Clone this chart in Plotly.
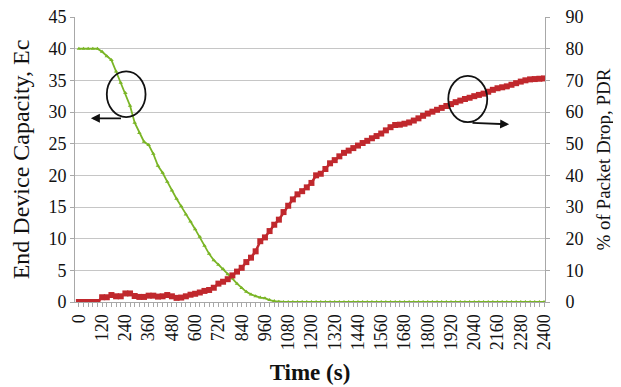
import plotly.graph_objects as go

time_s = list(range(0, 2401, 24))

end_device_capacity = [
    40, 40, 40, 40, 40, 39.5, 38.8, 38.2, 36.4, 34.6,
    33.0, 31.0, 28.3, 26.7, 25.3, 24.8, 23.4, 21.5, 20.4, 19.0,
    17.6, 16.3, 15.1, 13.8, 12.7, 11.5, 10.3, 8.9, 7.6, 6.6,
    5.9, 5.2, 4.4, 3.7, 2.9, 2.2, 1.6, 1.2, 0.9, 0.7,
    0.6, 0.3, 0.15, 0.05,
] + [0] * 57

packet_drop_pct = [
    0, 0, 0, 0, 0, 1.5, 1.5, 2.2, 1.8, 1.8,
    2.7, 2.7, 1.9, 1.6, 1.6, 2.0, 2.0, 1.7, 1.8, 2.2,
    1.8, 1.3, 1.4, 1.8, 2.3, 2.6, 3.0, 3.5, 3.8, 4.5,
    5.8, 6.4, 7.2, 8.4, 9.6, 10.8, 12.6, 14.0, 16.0, 19.2,
    20.4, 22.4, 24.4, 26.0, 28.4, 30.4, 32.4, 34.0, 35.0, 36.2,
    37.6, 40.0, 40.5, 42.0, 43.8, 44.8, 46.0, 47.1, 47.8, 48.6,
    49.4, 50.2, 50.9, 51.7, 52.4, 53.2, 54.2, 55.2, 55.9, 56.0,
    56.3, 56.7, 57.3, 58.0, 58.8, 59.5, 60.1, 60.7, 61.3, 61.9,
    62.5, 63.1, 63.6, 64.1, 64.5, 65.0, 65.4, 65.8, 66.4, 67.0,
    67.5, 67.8, 68.1, 68.6, 69.1, 69.6, 70.0, 70.3, 70.4, 70.5,
    70.6,
]

x_tick_vals = list(range(0, 2401, 120))
left_ticks = list(range(0, 46, 5))
right_ticks = list(range(0, 91, 10))

FONT = "Liberation Serif"
GRID = "#c6c6c6"
AXIS = "#a8a8a8"

fig = go.Figure()
fig.add_trace(go.Scatter(
    x=time_s, y=end_device_capacity, mode="lines+markers",
    line=dict(color="#7ab526", width=1.8),
    marker=dict(symbol="triangle-up", size=4, color="#7ab526"),
    yaxis="y", showlegend=False,
))
fig.add_trace(go.Scatter(
    x=time_s, y=packet_drop_pct, mode="lines+markers",
    line=dict(color="#c0282d", width=2.5),
    marker=dict(symbol="square", size=6, color="#c0282d"),
    yaxis="y2", showlegend=False,
))

# annotation ellipses and arrows (in data coordinates of left axis)
for x0, x1, y0, y1 in [(144, 344, 29.2, 36.4), (1906, 2107, 28.4, 35.7)]:
    fig.add_shape(type="circle", xref="x", yref="y", x0=x0, x1=x1, y0=y0, y1=y1,
                  line=dict(color="#111111", width=1.8))
fig.add_annotation(x=62, y=29.0, ax=225, ay=29.0, xref="x", yref="y", axref="x", ayref="y",
                   showarrow=True, arrowhead=2, arrowsize=1, arrowwidth=1.8, arrowcolor="#111111", text="")
fig.add_annotation(x=2220, y=28.05, ax=2023, ay=28.3, xref="x", yref="y", axref="x", ayref="y",
                   showarrow=True, arrowhead=2, arrowsize=1, arrowwidth=1.8, arrowcolor="#111111", text="")

fig.update_layout(
    width=621, height=387,
    margin=dict(l=67, r=84, t=9, b=93),
    paper_bgcolor="white", plot_bgcolor="white",
    font=dict(family=FONT, size=18, color="#111111"),
    xaxis=dict(
        range=[-20, 2405], tickmode="array", tickvals=x_tick_vals,
        ticktext=[str(v) for v in x_tick_vals], tickangle=-90,
        ticks="outside", ticklen=4, tickcolor=AXIS,
        minor=dict(dtick=24, tick0=0, ticks="outside", ticklen=4, tickcolor=AXIS, showgrid=False),
        showgrid=False, showline=True, linecolor=AXIS, linewidth=1,
        zeroline=False, automargin=False, ticklabeloverflow="allow",
        title=dict(text="<b>Time (s)</b>", font=dict(family=FONT, size=23), standoff=14),
        tickfont=dict(family=FONT, size=18),
    ),
    yaxis=dict(
        range=[0, 45], tickvals=left_ticks, ticks="outside", ticklen=4, tickcolor=AXIS,
        showgrid=True, gridcolor=GRID, gridwidth=1,
        showline=True, linecolor=AXIS, zeroline=False, automargin=False,
        ticklabeloverflow="allow",
        title=dict(text="End Device Capacity, Ec", font=dict(family=FONT, size=24), standoff=12),
        tickfont=dict(family=FONT, size=18),
    ),
    yaxis2=dict(
        range=[0, 90], tickvals=right_ticks, overlaying="y", side="right",
        ticks="outside", ticklen=4, tickcolor=AXIS, ticklabelstandoff=12,
        showgrid=False, showline=True, linecolor=AXIS, zeroline=False, automargin=False,
        ticklabeloverflow="allow",
        title=dict(text="% of Packet Drop, PDR", font=dict(family=FONT, size=19), standoff=14),
        tickfont=dict(family=FONT, size=18),
    ),
)

fig.write_html("out.html")
